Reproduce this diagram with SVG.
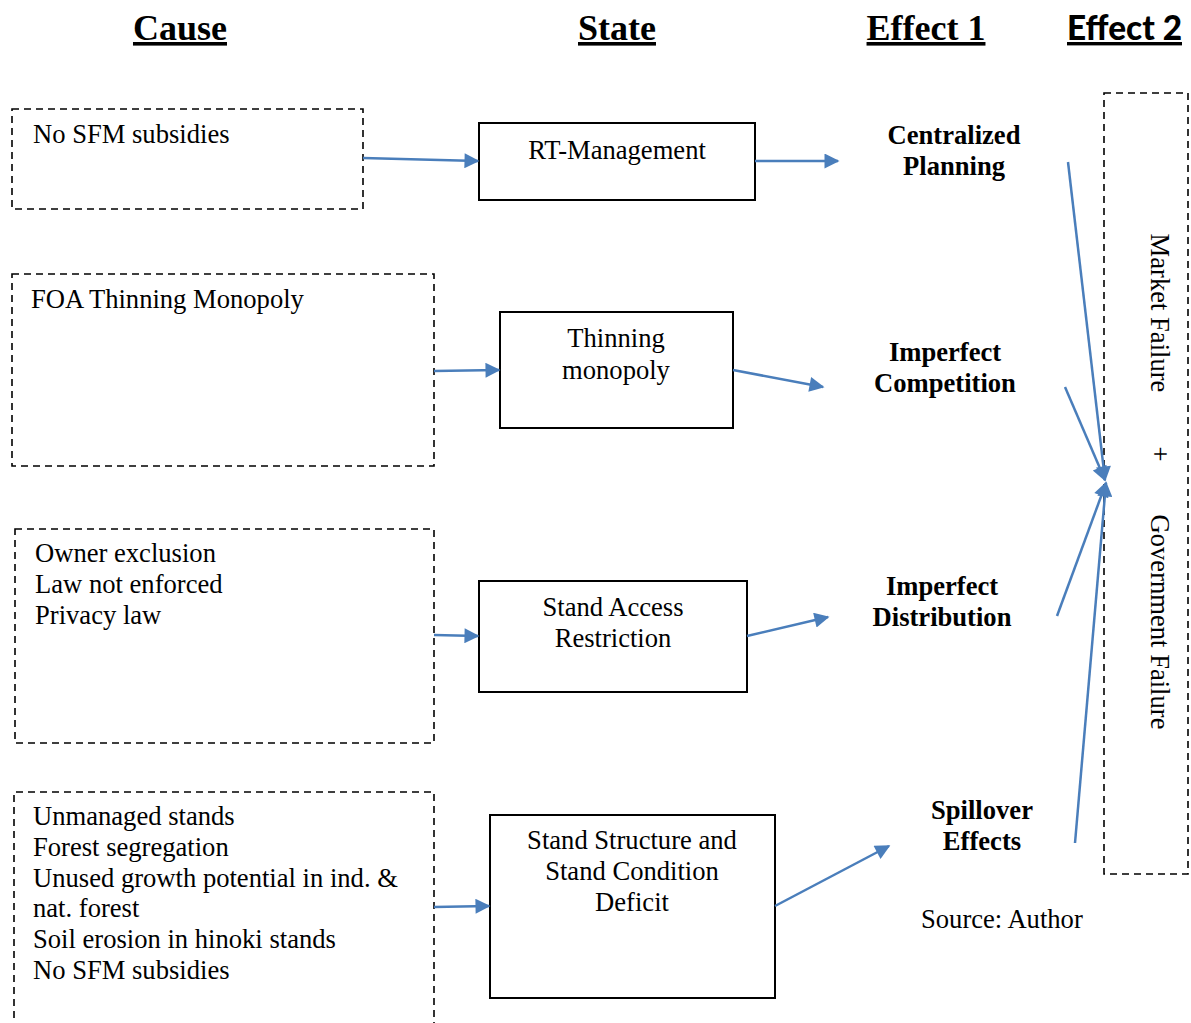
<svg xmlns="http://www.w3.org/2000/svg" width="1191" height="1023" viewBox="0 0 1191 1023">
<style>
.hd{font-family:"Liberation Serif",serif;font-weight:bold;font-size:36px;text-decoration:underline;text-anchor:middle;fill:#000}
.t{font-family:"Liberation Serif",serif;font-size:26.6px;fill:#000}
.c{text-anchor:middle}
.b{font-weight:bold}
.dash{fill:none;stroke:#000;stroke-width:1.6;stroke-dasharray:7,5}
.solid{fill:#fff;stroke:#000;stroke-width:2}
.ar{fill:none;stroke:#4A7EBB;stroke-width:2.5;marker-end:url(#ah)}
</style>
<defs>
<marker id="ah" viewBox="0 0 10 10" refX="9" refY="5" markerWidth="7" markerHeight="6" markerUnits="strokeWidth" orient="auto">
<path d="M0,0 L10,5 L0,10 z" fill="#4A7EBB"/>
</marker>
</defs>
<rect width="1191" height="1023" fill="#fff"/>
<g id="headers">
<text class="hd" x="180" y="40">Cause</text>
<text class="hd" x="617" y="40">State</text>
<text class="hd" x="926" y="40">Effect 1</text>
<text x="1067" y="40" font-family="Lato,'Open Sans',sans-serif" font-weight="900" font-size="34" text-decoration="underline" textLength="115" lengthAdjust="spacingAndGlyphs">Effect 2</text>
</g>
<g id="cause1"><rect class="dash" x="12" y="109" width="351" height="100"/><text class="t" x="33" y="143">No SFM subsidies</text></g>
<g id="cause2"><rect class="dash" x="12" y="274" width="422" height="192"/><text class="t" x="31" y="308">FOA Thinning Monopoly</text></g>
<g id="cause3"><rect class="dash" x="15" y="529" width="419" height="214"/>
<text class="t" x="35" y="562">Owner exclusion</text><text class="t" x="35" y="593">Law not enforced</text><text class="t" x="35" y="624">Privacy law</text></g>
<g id="cause4"><path class="dash" d="M14,1030 L14,792 L434,792 L434,1030"/>
<text class="t" x="33" y="825">Unmanaged stands</text><text class="t" x="33" y="856">Forest segregation</text><text class="t" x="33" y="887">Unused growth potential in ind. &amp;</text><text class="t" x="33" y="917">nat. forest</text><text class="t" x="33" y="948">Soil erosion in hinoki stands</text><text class="t" x="33" y="979">No SFM subsidies</text></g>
<g id="state1"><rect class="solid" x="479" y="123" width="276" height="77"/><text class="t c" x="617" y="159">RT-Management</text></g>
<g id="state2"><rect class="solid" x="500" y="312" width="233" height="116"/><text class="t c" x="616" y="347">Thinning</text><text class="t c" x="616" y="379">monopoly</text></g>
<g id="state3"><rect class="solid" x="479" y="581" width="268" height="111"/><text class="t c" x="613" y="616">Stand Access</text><text class="t c" x="613" y="647">Restriction</text></g>
<g id="state4"><rect class="solid" x="490" y="815" width="285" height="183"/><text class="t c" x="632" y="849">Stand Structure and</text><text class="t c" x="632" y="880">Stand Condition</text><text class="t c" x="632" y="911">Deficit</text></g>
<g id="effect1a"><text class="t c b" x="954" y="144">Centralized</text><text class="t c b" x="954" y="175">Planning</text></g>
<g id="effect1b"><text class="t c b" x="945" y="361">Imperfect</text><text class="t c b" x="945" y="392">Competition</text></g>
<g id="effect1c"><text class="t c b" x="942" y="595">Imperfect</text><text class="t c b" x="942" y="626">Distribution</text></g>
<g id="effect1d"><text class="t c b" x="982" y="819">Spillover</text><text class="t c b" x="982" y="850">Effects</text></g>
<g id="source"><text class="t" x="921" y="928">Source: Author</text></g>
<g id="effect2"><rect class="dash" x="1104" y="93" width="84" height="781"/>
<text class="t c" transform="translate(1151,313) rotate(90)">Market Failure</text>
<text class="t c" transform="translate(1151,454) rotate(90)">+</text>
<text class="t c" transform="translate(1151,622) rotate(90)">Government Failure</text></g>
<g id="connectors">
<line class="ar" x1="363" y1="158" x2="478" y2="161"/>
<line class="ar" x1="755" y1="161" x2="838" y2="161"/>
<line class="ar" x1="434" y1="371" x2="499" y2="370"/>
<line class="ar" x1="733" y1="370" x2="823" y2="387"/>
<line class="ar" x1="434" y1="635" x2="478" y2="636"/>
<line class="ar" x1="747" y1="636" x2="828" y2="617"/>
<line class="ar" x1="434" y1="907" x2="489" y2="906"/>
<line class="ar" x1="775" y1="906" x2="889" y2="846"/>
<line class="ar" x1="1068" y1="162" x2="1105" y2="480"/>
<line class="ar" x1="1065" y1="387" x2="1105" y2="480"/>
<line class="ar" x1="1057" y1="616" x2="1106" y2="483"/>
<line class="ar" x1="1075" y1="843" x2="1106" y2="483"/>
</g>
</svg>
